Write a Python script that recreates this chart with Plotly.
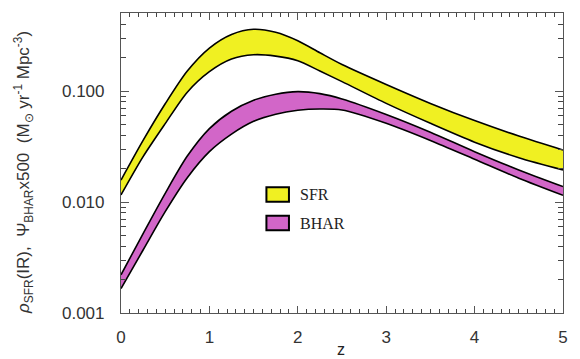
import plotly.graph_objects as go

z = [0, 0.25, 0.5, 0.75, 1.0, 1.25, 1.5, 1.75, 2.0, 2.25, 2.5, 3.0, 3.5, 4.0, 4.5, 5.0]

sfr_upper = [0.0158, 0.036, 0.077, 0.152, 0.245, 0.325, 0.362, 0.34, 0.285, 0.222, 0.174, 0.115, 0.0776, 0.0543, 0.0394, 0.0295]
sfr_lower = [0.0116, 0.0257, 0.051, 0.098, 0.150, 0.195, 0.213, 0.207, 0.188, 0.152, 0.122, 0.0776, 0.0513, 0.0347, 0.0251, 0.0195]

bhar_upper = [0.00221, 0.0052, 0.0120, 0.0260, 0.046, 0.066, 0.083, 0.094, 0.099, 0.095, 0.0851, 0.0617, 0.0427, 0.0285, 0.0195, 0.0138]
bhar_lower = [0.00166, 0.0037, 0.0082, 0.0166, 0.0285, 0.041, 0.0535, 0.062, 0.0672, 0.069, 0.0676, 0.0513, 0.0359, 0.0243, 0.0164, 0.0115]

x_dtick = 1
y_dtick = 1
y_tick_format = ".3f"

names = ["SFR", "BHAR"]
fills = ["#f0f022", "#d266c8"]

fig = go.Figure()
for lo, up, col, nm in [(sfr_lower, sfr_upper, fills[0], names[0]),
                         (bhar_lower, bhar_upper, fills[1], names[1])]:
    fig.add_trace(go.Scatter(x=z, y=lo, mode="lines", line=dict(color="black", width=1.6, shape="spline", smoothing=0.8),
                             showlegend=False, hoverinfo="skip"))
    fig.add_trace(go.Scatter(x=z, y=up, mode="lines", fill="tonexty", fillcolor=col,
                             line=dict(color="black", width=1.6, shape="spline", smoothing=0.8),
                             name=nm, showlegend=False))

# legend (boxes + labels)
leg_y = [0.395, 0.30]
for i, nm in enumerate(names):
    fig.add_shape(type="rect", xref="paper", yref="paper",
                  x0=0.329, x1=0.380, y0=leg_y[i] - 0.024, y1=leg_y[i] + 0.024,
                  fillcolor=fills[i], line=dict(color="black", width=2))
    fig.add_annotation(xref="paper", yref="paper", x=0.400, y=leg_y[i], text=nm,
                       showarrow=False, xanchor="left", yanchor="middle",
                       font=dict(family="Liberation Serif", size=16, color="#222"))

fig.add_annotation(xref="paper", yref="paper", x=0.497, y=-0.085, text="z", showarrow=False,
                   xanchor="center", yanchor="top",
                   font=dict(family="Liberation Sans", size=16, color="#222"))

fig.add_annotation(xref="paper", yref="paper", x=-0.222, y=0.47, textangle=-90,
                   text="<i>ρ</i><sub>SFR</sub>(IR),  Ψ<sub>BHAR</sub>x500  (M<sub>⊙</sub> yr<sup>-1</sup> Mpc<sup>-3</sup>)",
                   showarrow=False, xanchor="center", yanchor="middle",
                   font=dict(family="Liberation Sans", size=17, color="#333"))

axis_common = dict(showline=True, linecolor="#555", linewidth=1.2, mirror="allticks",
                   ticks="inside", tickcolor="#555", tickwidth=1.2, showgrid=False, zeroline=False)

fig.update_xaxes(range=[0, 5], tick0=0, dtick=x_dtick, ticklen=7,
                 minor=dict(ticks="inside", tick0=0, dtick=0.1, ticklen=4, tickwidth=1, tickcolor="#444", showgrid=False),
                 tickfont=dict(family="Liberation Sans", size=17, color="#333"),
                 ticklabelstandoff=8, **axis_common)
fig.update_yaxes(type="log", range=[-3, -0.295], dtick=y_dtick, tickformat=y_tick_format, ticklen=8,
                 minor=dict(ticks="inside", ticklen=5, tickwidth=1, tickcolor="#444", dtick="D1", showgrid=False),
                 tickfont=dict(family="Liberation Sans", size=17, color="#333"),
                 ticklabelstandoff=12, **axis_common)

fig.update_layout(width=580, height=359, margin=dict(l=121, r=12, t=12, b=40),
                  plot_bgcolor="white", paper_bgcolor="white", showlegend=False)

fig.write_html("out.html")
